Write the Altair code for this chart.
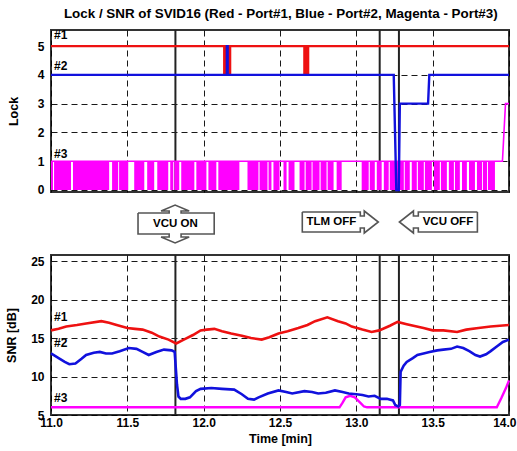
import altair as alt
import pandas as pd

FONT = "Liberation Sans"
RED = "#EE1111"
BLUE = "#1111DD"
MAG = "#FF00FF"

# ---------------- data ----------------
title_text = "Lock / SNR of SVID16 (Red - Port#1, Blue - Port#2, Magenta - Port#3)"
x_ticks = [11.0, 11.5, 12.0, 12.5, 13.0, 13.5, 14.0]
lock_ticks = [0, 1, 2, 3, 4, 5]
snr_ticks = [5, 10, 15, 20, 25]
event_t = [11.815, 13.153, 13.279]

# Lock, port #1 (red)
lock1_t = [11.0, 12.135, 12.135, 12.143, 12.143, 12.150, 12.150, 12.158, 12.158, 12.165, 12.165, 12.173, 12.173,
           12.660, 12.660, 12.667, 12.667, 12.674, 12.674, 12.684, 12.684, 14.0]
lock1_v = [5, 5, 4, 4, 5, 5, 4, 4, 5, 5, 4, 4, 5,
           5, 4, 4, 5, 5, 4, 4, 5, 5]
# Lock, port #2 (blue)
lock2_t = [11.0, 12.152, 12.152, 12.157, 12.157, 13.245, 13.262, 13.278, 13.285, 13.470, 13.478, 14.0]
lock2_v = [4, 4, 5, 5, 4, 4, 0, 0, 3, 3, 4, 4]
# Lock, port #3 (magenta): level line and white gaps in the fast 0/1 toggling
lock3_t = [11.0, 13.957, 13.977, 14.0]
lock3_v = [1, 1, 3, 3]
toggle_end = 13.908
gap_start = [11.013, 11.131, 11.381, 11.440, 11.506, 11.611, 11.676, 11.768, 11.801, 11.840, 11.939, 12.018,
             12.083, 12.234, 12.359, 12.418, 12.444, 12.497, 12.543, 12.595, 12.661, 12.707, 12.759, 12.805,
             12.851, 12.904, 13.081, 13.121, 13.166, 13.212, 13.311, 13.350, 13.396, 13.442, 13.495, 13.547,
             13.593, 13.639, 13.678, 13.724, 13.777, 13.823, 13.856]
gap_end = [11.020, 11.144, 11.400, 11.446, 11.545, 11.630, 11.696, 11.781, 11.808, 11.853, 11.952, 12.031,
           12.096, 12.287, 12.366, 12.425, 12.457, 12.523, 12.556, 12.628, 12.668, 12.713, 12.766, 12.812,
           12.871, 13.035, 13.088, 13.134, 13.180, 13.219, 13.317, 13.363, 13.403, 13.449, 13.508, 13.554,
           13.606, 13.646, 13.692, 13.738, 13.790, 13.829, 13.862]

# SNR, port #1 (red)
snr1_t = [11.00, 11.05, 11.10, 11.17, 11.23, 11.33, 11.38, 11.43, 11.50, 11.55, 11.60, 11.66, 11.71, 11.77, 11.82,
          11.87, 11.93, 11.98, 12.02, 12.07, 12.12, 12.18, 12.25, 12.31, 12.38, 12.43, 12.49, 12.55, 12.62, 12.68,
          12.73, 12.81, 12.88, 12.93, 12.97, 13.04, 13.10, 13.15, 13.22, 13.27, 13.33, 13.44, 13.50, 13.57, 13.66,
          13.72, 13.80, 13.88, 13.94, 14.00]
snr1_v = [16.0, 16.2, 16.5, 16.7, 16.9, 17.2, 17.0, 16.7, 16.3, 16.2, 16.1, 15.7, 15.2, 14.8, 14.3,
          14.8, 15.4, 16.0, 16.1, 16.2, 15.9, 15.6, 15.3, 15.0, 14.8, 15.1, 15.6, 15.9, 16.3, 16.7,
          17.2, 17.7, 17.2, 16.9, 16.5, 16.1, 15.8, 16.0, 16.6, 17.1, 16.8, 16.3, 16.0, 16.0, 15.8,
          16.1, 16.3, 16.5, 16.6, 16.7]
# SNR, port #2 (blue)
snr2_t = [11.00, 11.05, 11.09, 11.12, 11.16, 11.20, 11.23, 11.28, 11.32, 11.36, 11.40, 11.45, 11.51, 11.56, 11.60,
          11.64, 11.69, 11.74, 11.79, 11.81, 11.825, 11.835, 11.85, 11.88, 11.91, 11.95, 11.98, 12.05, 12.12, 12.20,
          12.25, 12.29, 12.33, 12.36, 12.42, 12.49, 12.54, 12.58, 12.66, 12.71, 12.75, 12.80, 12.86, 12.91, 12.95,
          13.00, 13.04, 13.08, 13.12, 13.16, 13.20, 13.24, 13.255, 13.275, 13.285, 13.29, 13.31, 13.33, 13.37, 13.40,
          13.44, 13.48, 13.53, 13.57, 13.62, 13.66, 13.70, 13.74, 13.78, 13.81, 13.85, 13.88, 13.92, 13.96, 14.00]
snr2_v = [13.0, 12.4, 11.9, 11.6, 11.7, 12.3, 12.8, 13.1, 13.2, 13.0, 13.0, 13.3, 13.7, 13.6, 13.2,
          12.8, 13.2, 13.5, 13.4, 13.2, 9.0, 7.4, 7.1, 7.1, 7.3, 8.1, 8.4, 8.5, 8.4, 8.3,
          7.7, 7.1, 7.0, 7.3, 7.8, 8.2, 8.0, 7.8, 8.1, 8.0, 7.8, 7.9, 8.2, 8.0, 7.8,
          7.7, 7.6, 7.4, 7.5, 7.1, 7.1, 6.9, 6.3, 6.1, 6.3, 10.6, 11.4, 11.9, 12.4, 12.8,
          13.0, 13.2, 13.4, 13.5, 13.6, 13.9, 13.7, 13.3, 12.8, 12.6, 12.9, 13.3, 13.9, 14.5, 14.8]
# SNR, port #3 (magenta)
snr3_t = [11.00, 12.89, 12.91, 12.93, 12.96, 12.99, 13.01, 13.03, 13.05, 13.07, 13.92, 13.95, 13.98, 14.00]
snr3_v = [6.0, 6.0, 6.6, 7.3, 7.5, 7.3, 6.9, 6.5, 6.1, 6.0, 6.0, 7.2, 8.5, 9.5]

# port labels
lock_lab = ["#1", "#2", "#3"]
lock_lab_v = [5.14, 4.05, 1.02]
snr_lab = ["#1", "#2", "#3"]
snr_lab_v = [16.8, 13.5, 6.3]
lab_t = 11.02

# annotation call-outs between the panels (time, height units of the strip)
ann_names = ["VCU ON", "TLM OFF", "VCU OFF"]
ann_text_t = [11.815, 12.836, 13.60]
ann_text_v = [29.5, 31, 31]
vcu_on_t = [11.570, 11.774, 11.774, 11.721, 11.813, 11.905, 11.852, 11.852, 12.069, 12.069, 11.852, 11.852,
            11.905, 11.813, 11.721, 11.774, 11.774, 11.570, 11.570]
vcu_on_v = [40, 40, 42, 42, 48, 42, 42, 40, 40, 19, 19, 16, 16, 10, 16, 16, 19, 19, 40]
tlm_off_t = [12.646, 13.026, 13.026, 13.052, 13.052, 13.144, 13.052, 13.052, 13.026, 13.026, 12.646, 12.646]
tlm_off_v = [41, 41, 37, 37, 42, 31, 20, 25, 25, 21, 21, 41]
vcu_off_t = [13.793, 13.406, 13.406, 13.374, 13.374, 13.282, 13.374, 13.374, 13.406, 13.406, 13.793, 13.793]
vcu_off_v = [41, 41, 37, 37, 42, 31, 20, 25, 25, 21, 21, 41]

# ---------------- tables ----------------
def series(t, v, name):
    return pd.DataFrame({"t": t, "v": v, "i": list(range(len(t))), "s": name})

fill_t0, fill_t1 = [], []
prev = 11.0
for a, b in zip(gap_start, gap_end):
    fill_t0.append(prev)
    fill_t1.append(a)
    prev = b
fill_t0.append(prev)
fill_t1.append(toggle_end)
fill_df = pd.DataFrame({"t0": fill_t0, "t1": fill_t1, "lo": 0, "hi": 1})

events_df = pd.DataFrame({"t": event_t})

W = 458
MID_H = 56
xs = alt.Scale(domain=[11.0, 14.0], nice=False, zero=False)
grid_kw = dict(grid=True, gridColor="#000000", gridDash=[6, 4], gridWidth=1, gridOpacity=0.9)
lab_kw = dict(labelFont=FONT, labelFontSize=12, labelFontWeight="bold", labelColor="#000000",
              titleFont=FONT, titleFontSize=12.5, titleFontWeight="bold", titleColor="#000000",
              ticks=False, domain=False, labelOverlap=False, tickCount=20)


def line_layer(df, color, y_scale, width=2.4):
    return alt.Chart(df).mark_line(color=color, strokeWidth=width, strokeCap="butt").encode(
        x=alt.X("t:Q", scale=xs), y=alt.Y("v:Q", scale=y_scale), order="i:Q")


def label_layer(texts, vals, y_scale):
    df = pd.DataFrame({"t": [lab_t] * len(texts), "v": vals, "txt": texts})
    return alt.Chart(df).mark_text(align="left", baseline="bottom", font=FONT, fontSize=12,
                                   fontWeight="bold", color="#000000").encode(
        x=alt.X("t:Q", scale=xs), y=alt.Y("v:Q", scale=y_scale), text="txt:N")


# ---------------- top panel: Lock ----------------
lock_scale = alt.Scale(domain=[-0.07, 5.56], nice=False, zero=False)
top_base = alt.Chart(fill_df).mark_rect(color=MAG).encode(
    x=alt.X("t0:Q", scale=xs, axis=alt.Axis(values=x_ticks, labels=False, title=None, **grid_kw,
                                            ticks=False, domain=False, labelPadding=0, tickCount=20,
                                            minExtent=0, maxExtent=0)),
    x2="t1:Q",
    y=alt.Y("lo:Q", scale=lock_scale,
            axis=alt.Axis(values=lock_ticks, format="d", title="Lock", labelPadding=7, titlePadding=17,
                          **grid_kw, **lab_kw)),
    y2="hi:Q")
top_events = alt.Chart(events_df).mark_rule(color="#222222", strokeWidth=2).encode(x=alt.X("t:Q", scale=xs))
top = alt.layer(
    top_events,
    top_base,
    line_layer(series(lock3_t, lock3_v, "3"), MAG, lock_scale, 1.6),
    line_layer(series(lock1_t, lock1_v, "1"), RED, lock_scale),
    line_layer(series(lock2_t, lock2_v, "2"), BLUE, lock_scale),
    label_layer(lock_lab, lock_lab_v, lock_scale),
).properties(width=W, height=162)

# ---------------- middle strip: call-outs ----------------
mid_scale_y = alt.Scale(domain=[0, MID_H], nice=False, zero=False)
shape_df = pd.concat([series(vcu_on_t, vcu_on_v, "on"), series(tlm_off_t, tlm_off_v, "tlm"),
                      series(vcu_off_t, vcu_off_v, "off")])
mid_shapes = alt.Chart(shape_df).mark_line(color="#555555", strokeWidth=1.6, strokeJoin="miter").encode(
    x=alt.X("t:Q", scale=xs, axis=None), y=alt.Y("v:Q", scale=mid_scale_y, axis=None),
    detail="s:N", order="i:Q")
mid_text = alt.Chart(pd.DataFrame({"t": ann_text_t, "v": ann_text_v, "txt": ann_names})).mark_text(
    font=FONT, fontSize=11.5, fontWeight="bold", color="#000000", align="center", baseline="middle").encode(
    x=alt.X("t:Q", scale=xs, axis=None), y=alt.Y("v:Q", scale=mid_scale_y, axis=None), text="txt:N")
mid = alt.layer(mid_shapes, mid_text).properties(width=W, height=MID_H,
                                                 view=alt.ViewBackground(strokeOpacity=0))

# ---------------- bottom panel: SNR ----------------
snr_scale = alt.Scale(domain=[5, 25.8], nice=False, zero=False)
bot_events = alt.Chart(events_df).mark_rule(color="#222222", strokeWidth=2).encode(
    x=alt.X("t:Q", scale=xs, axis=alt.Axis(
        values=x_ticks, format=".1f", title="Time [min]", labelFlush=False,
        labelAlign=alt.ExprRef(expr="datum.value >= 13.99 ? 'right' : 'center'"),
        labelOffset=alt.ExprRef(expr="datum.value >= 13.99 ? 7 : 0"),
        labelPadding=2, titlePadding=4, **grid_kw, **lab_kw)))
bot_snr3 = alt.Chart(series(snr3_t, snr3_v, "3")).mark_line(color=MAG, strokeWidth=2.4).encode(
    x=alt.X("t:Q", scale=xs),
    y=alt.Y("v:Q", scale=snr_scale,
            axis=alt.Axis(values=snr_ticks, format="d", title="SNR [dB]", labelPadding=7, titlePadding=12,
                          **grid_kw, **lab_kw)),
    order="i:Q")
bottom = alt.layer(
    bot_events,
    bot_snr3,
    line_layer(series(snr2_t, snr2_v, "2"), BLUE, snr_scale, 2.6),
    line_layer(series(snr1_t, snr1_v, "1"), RED, snr_scale, 2.6),
    label_layer(snr_lab, snr_lab_v, snr_scale),
).properties(width=W, height=160)

chart = alt.vconcat(top, mid, bottom, spacing=0).properties(
    title=alt.TitleParams(title_text, font=FONT, fontSize=13.4, fontWeight="bold", color="#000000",
                          anchor="middle", offset=8, dx=20),
    padding={"left": 4, "top": 6, "right": 0, "bottom": 2},
).configure_view(stroke="#333333", strokeWidth=2).configure_concat(spacing=0)

chart.save("out.html", embed_options={"renderer": "svg", "actions": False})
